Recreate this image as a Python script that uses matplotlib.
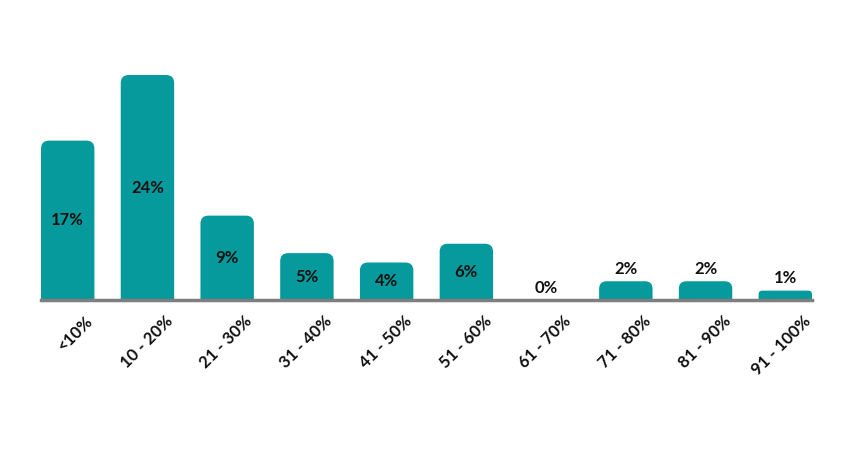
import matplotlib.pyplot as plt
import matplotlib.transforms as mtransforms
from matplotlib.patches import FancyBboxPatch

plt.rcParams['font.family'] = ['Lato', 'DejaVu Sans']

categorias = ['<10%', '10 - 20%', '21 - 30%', '31 - 40%', '41 - 50%',
              '51 - 60%', '61 - 70%', '71 - 80%', '81 - 90%', '91 - 100%']
valores = [17, 24, 9, 5, 4, 6, 0, 2, 2, 1]
etiquetas = ['17%', '24%', '9%', '5%', '4%', '6%', '0%', '2%', '2%', '1%']

color_barra = '#079A9C'

fig = plt.figure(figsize=(8.6, 4.5), dpi=100)
ax = fig.add_axes([41 / 860, 150 / 450, (812 - 41) / 860, 225 / 450])

ancho = 0.67
ax.set_xlim(-ancho / 2, len(valores) - 1 + ancho / 2)
ax.set_ylim(0, 24)
bars = ax.bar(range(len(valores)), valores, width=ancho, color=color_barra)

# px por unidad en cada eje, para redondear las esquinas en pixeles
px_x = ax.get_position().width * 860 / (ax.get_xlim()[1] - ax.get_xlim()[0])
px_y = ax.get_position().height * 450 / (ax.get_ylim()[1] - ax.get_ylim()[0])

for b in bars:
    h = b.get_height()
    if h <= 0:
        continue
    b.set_visible(False)
    r_px = min(8, h * px_y * 0.4)
    r_x = r_px / px_x
    r_y = r_px / px_y
    p = FancyBboxPatch((b.get_x(), -r_y), ancho, h + r_y,
                       boxstyle=f"round,pad=0,rounding_size={r_x}",
                       mutation_aspect=r_y / r_x,
                       facecolor=color_barra, edgecolor='none', clip_on=True)
    ax.add_patch(p)

for i, (v, t) in enumerate(zip(valores, etiquetas)):
    if v >= 4:
        ax.text(i, v / 2, t, ha='center', va='center', fontsize=12,
                fontweight='bold', color='#111111')
    else:
        ax.text(i, v + 0.45, t, ha='center', va='bottom', fontsize=12,
                fontweight='bold', color='#111111')

for s in ['top', 'right', 'left']:
    ax.spines[s].set_visible(False)
ax.spines['bottom'].set_color('#7F7F7F')
ax.spines['bottom'].set_linewidth(2.5)
ax.spines['bottom'].set_zorder(3)
ax.set_yticks([])
ax.set_xticks(range(len(valores)))
ax.set_xticklabels(categorias, rotation=45, ha='right', rotation_mode='anchor',
                   fontsize=12, fontweight='bold', color='#111111')
ax.tick_params(axis='x', length=0, pad=9)
offset = mtransforms.ScaledTranslation(17 / 100, 0, fig.dpi_scale_trans)
for lbl in ax.get_xticklabels():
    lbl.set_transform(lbl.get_transform() + offset)

fig.savefig('out.png', dpi=100)
